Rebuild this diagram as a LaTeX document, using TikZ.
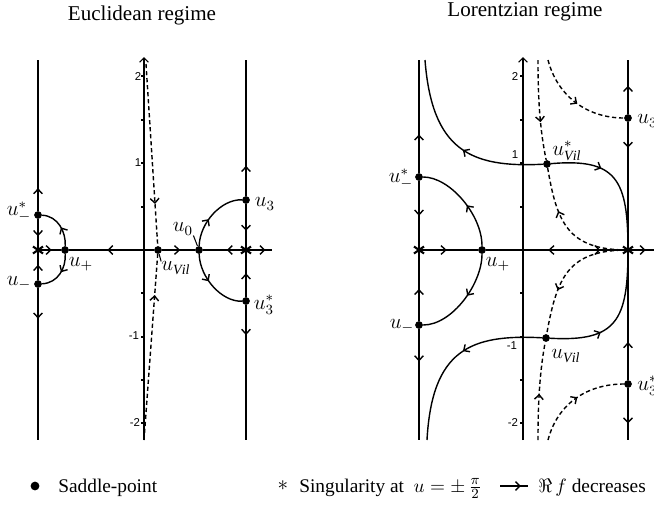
\documentclass[tikz,border=0pt]{standalone}
\usepackage{amsmath, amssymb}
\usepackage{fontspec}
\setmainfont{Liberation Serif}
\newfontfamily\tickfont{Liberation Sans}
\usepackage{tikz}
\usetikzlibrary{arrows.meta, decorations.markings}

\begin{document}
\begin{tikzpicture}[
    x=0.02cm, y=-0.02cm,
    >={Straight Barb[length=2.6pt,width=5pt]},
    curve/.style={thick},
    axisline/.style={semithick},
    dashcurve/.style={thick, dash pattern=on 2.4pt off 1.6pt},
    flow/.style={postaction={decorate}, decoration={markings, mark=at position #1 with {\arrow{>}}}},
    saddle/.style={circle, fill, inner sep=0pt, minimum size=4.4pt},
    lab/.style={font=\large, inner sep=0pt},
    ticklab/.style={font={\tickfont\fontsize{6.5}{7}\selectfont}, inner sep=0pt},
    title/.style={font={\fontsize{12}{14}\selectfont}},
    legend/.style={font={\fontsize{11}{13}\selectfont}, anchor=base west, inner sep=0pt},
    sing/.pic={\draw[very thick] (-5,-3.5) -- (5,3.5) (-5,3.5) -- (5,-3.5);}
]
\useasboundingbox (0,0) rectangle (654,505);

% ---------------- Euclidean regime ----------------
\node[title] (titE) at (142,15) {Euclidean regime};

\coordinate (EsL) at (38,250);
\coordinate (EsR) at (246,250);
\coordinate (EtopL) at (38,60);  \coordinate (EbotL) at (38,440);
\coordinate (EtopR) at (246,60); \coordinate (EbotR) at (246,440);
\coordinate (Eend) at (272,250);
\coordinate (EimT) at (144,57);  \coordinate (EimB) at (144,440);
\coordinate (EdT) at (146,64);   \coordinate (EdB) at (144,440);

% imaginary axis with ticks
\draw[axisline,->] (EimB) -- (EimT);
\foreach \t in {76,120,163,207,293,337,380,423}
  \draw[semithick] (144,\t) -- ++(-3,0);
\node[ticklab] (tE2) at (138,77) {2};
\node[ticklab] (tE1) at (138,163) {1};
\node[ticklab] (tEm1) at (134,336) {-1};
\node[ticklab] (tEm2) at (135,423) {-2};

% saddle points
\node[saddle] (Eums) at (38,215) {};
\node[saddle] (Eum) at (38,284) {};
\node[saddle] (Eup) at (65,250) {};
\node[saddle] (Evil) at (158,250) {};
\node[saddle] (Eu0) at (199,250) {};
\node[saddle] (Eu3) at (246,200) {};
\node[saddle] (Eu3s) at (246,301) {};

% vertical lines
\draw[curve, flow=0.15] (Eums) -- (EtopL);
\draw[curve, flow=0.55] (Eums) -- (EsL);
\draw[curve, flow=0.5] (Eum) -- (EsL);
\draw[curve, flow=0.2] (Eum) -- (EbotL);
\draw[curve, flow=0.22] (Eu3) -- (EtopR);
\draw[curve, flow=0.58] (Eu3) -- (EsR);
\draw[curve, flow=0.5] (Eu3s) -- (EsR);
\draw[curve, flow=0.22] (Eu3s) -- (EbotR);

% real axis
\draw[curve, flow=0.6] (EsL) -- (Eup);
\draw[curve, flow=0.55] (Evil) -- (Eup);
\draw[curve, flow=0.55] (Evil) -- (Eu0);
\draw[curve, flow=0.45] (EsR) -- (Eu0);
\draw[curve, flow=0.75] (EsR) -- (Eend);

% arcs
\draw[curve, flow=0.45] (Eup) .. controls (66,232) and (58,216) .. (Eums);
\draw[curve, flow=0.45] (Eup) .. controls (66,268) and (58,283) .. (Eum);
\draw[curve, flow=0.42] (Eu0) .. controls (200,222) and (222,199) .. (Eu3);
\draw[curve, flow=0.42] (Eu0) .. controls (200,278) and (222,302) .. (Eu3s);

% dashed paths to u_Vil
\draw[dashcurve, flow=0.77] (EdT) -- (Evil);
\draw[dashcurve, flow=0.78] (EdB) -- (Evil);

\pic at (EsL) {sing};
\pic at (EsR) {sing};

% labels
\node[lab] (lEums) at (19,212) {$u_-^*$};
\node[lab] (lEum) at (19,283) {$u_-$};
\node[lab] (lEup) at (81,264) {$u_+$};
\node[lab] (lEvil) at (176,268) {$u_{\mathit{Vil}}$};
\node[lab] (lEu0) at (183,229) {$u_0$};
\node[lab] (lEu3) at (265,204) {$u_3$};
\node[lab] (lEu3s) at (264,305) {$u_3^*$};
\draw[semithick] (lEu0.south east) -- (Eu0);
\draw[semithick] (Evil) -- (lEvil.north west);

% ---------------- Lorentzian regime ----------------
\node[title] (titL) at (525,12) {Lorentzian regime};

\coordinate (LsL) at (419,250);
\coordinate (LsR) at (628,250);
\coordinate (LtopL) at (419,60); \coordinate (LbotL) at (419,440);
\coordinate (LtopR) at (628,60); \coordinate (LbotR) at (628,440);
\coordinate (Lmid) at (575,250);
\coordinate (Lend) at (654,250);
\coordinate (LimT) at (523,57);  \coordinate (LimB) at (523,440);
\coordinate (LcTL) at (425,60);  \coordinate (LcBL) at (427,440);
\coordinate (LdT1) at (538,60);  \coordinate (LdT2) at (548,60);
\coordinate (LdB1) at (538,440); \coordinate (LdB2) at (548,440);

% imaginary axis with ticks
\draw[axisline,->] (LimB) -- (LimT);
\foreach \t in {76,120,163,207,293,337,380,423}
  \draw[semithick] (523,\t) -- ++(-3,0);
\node[ticklab] (tL2) at (515,77) {2};
\node[ticklab] (tL1) at (515,155) {1};
\node[ticklab] (tLm1) at (512,346) {-1};
\node[ticklab] (tLm2) at (513,423) {-2};

% saddle points
\node[saddle] (Lums) at (419,177) {};
\node[saddle] (Lum) at (419,325) {};
\node[saddle] (Lup) at (482,250) {};
\node[saddle] (Lvils) at (547,164) {};
\node[saddle] (Lvil) at (546,338) {};
\node[saddle] (Lu3) at (628,118) {};
\node[saddle] (Lu3s) at (628,384) {};

% vertical lines
\draw[curve, flow=0.34] (Lums) -- (LtopL);
\draw[curve, flow=0.5] (Lums) -- (LsL);
\draw[curve, flow=0.45] (Lum) -- (LsL);
\draw[curve, flow=0.29] (Lum) -- (LbotL);
\draw[curve, flow=0.52] (Lu3) -- (LtopR);
\draw[curve, flow=0.2] (Lu3) -- (LsR);
\draw[curve, flow=0.29] (Lu3s) -- (LsR);
\draw[curve, flow=0.68] (Lu3s) -- (LbotR);

% real axis
\draw[curve, flow=0.47] (LsL) -- (Lup);
\draw[curve, flow=0.3] (Lmid) -- (Lup);
\draw[curve, flow=0.48] (Lmid) -- (LsR);
\draw[curve, flow=0.68] (LsR) -- (Lend);

% arcs round u_+
\draw[curve, flow=0.45] (Lup) .. controls (482,215) and (450,177) .. (Lums);
\draw[curve, flow=0.45] (Lup) .. controls (482,284) and (452,325) .. (Lum);

% steepest paths through u_Vil and u_Vil^*
\draw[curve, flow=0.45] (Lvils) .. controls (470,168) and (432,150) .. (LcTL);
\draw[curve, flow=0.36] (Lvils) .. controls (617,158) and (628,180) .. (LsR);
\draw[curve, flow=0.45] (Lvil) .. controls (470,334) and (432,350) .. (LcBL);
\draw[curve, flow=0.36] (Lvil) .. controls (617,342) and (628,320) .. (LsR);

% dashed paths
\draw[dashcurve, flow=0.62] (LdT1) .. controls (538,100) and (540,130) .. (Lvils);
\draw[dashcurve, flow=0.47] (LdB1) .. controls (538,400) and (540,370) .. (Lvil);
\draw[dashcurve, flow=0.66] (LsR) .. controls (568,250) and (557,223) .. (Lvils);
\draw[dashcurve, flow=0.66] (LsR) .. controls (568,250) and (557,277) .. (Lvil);
\draw[dashcurve, flow=0.52] (LdT2) .. controls (558,98) and (589,118) .. (Lu3);
\draw[dashcurve, flow=0.52] (LdB2) .. controls (558,402) and (589,384) .. (Lu3s);

\pic at (LsL) {sing};
\pic at (LsR) {sing};

% labels
\node[lab] (lLums) at (401,179) {$u_-^*$};
\node[lab] (lLum) at (402,326) {$u_-$};
\node[lab] (lLup) at (498,264) {$u_+$};
\node[lab] (lLvils) at (567,151) {$u_{\mathit{Vil}}^*$};
\node[lab] (lLvil) at (566,356) {$u_{\mathit{Vil}}$};
\node[lab, anchor=west] (lLu3) at (637,121) {$u_3$};
\node[lab, anchor=west] (lLu3s) at (637,386) {$u_3^*$};

% ---------------- legend ----------------
\node[saddle, minimum size=5pt] (legdot) at (35,486) {};
\node[legend] (legsad) at (58,492) {Saddle-point};
\node[inner sep=0pt, font={\fontsize{12}{14}\selectfont}] (legstar) at (283,486) {$\ast$};
\node[legend] (legsing) at (299,492) {Singularity at\ \ $u=\pm\,\frac{\pi}{2}$};
\coordinate (legA) at (500,486);
\coordinate (legB) at (528,486);
\draw[curve, flow=0.75] (legA) -- (legB);
\node[legend] (legdec) at (538,492) {$\Re\, f$\ decreases};
\end{tikzpicture}
\end{document}
